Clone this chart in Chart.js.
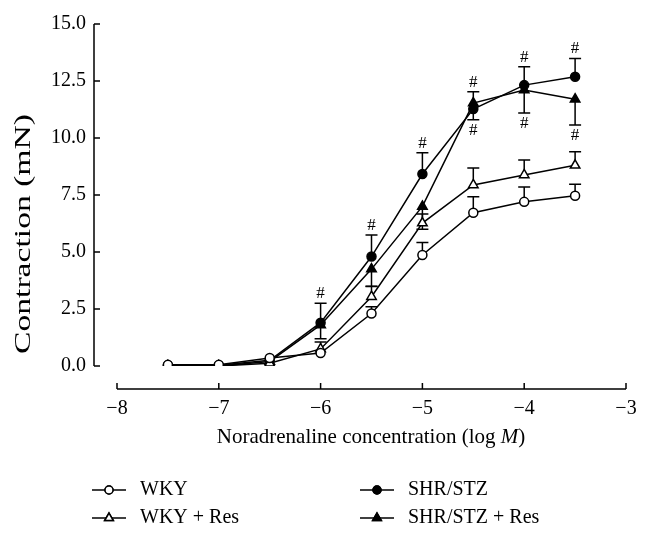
<!DOCTYPE html>
<html>
<head>
<meta charset="utf-8">
<script src="https://cdn.jsdelivr.net/npm/chart.js@4"></script>
<style>
  body { margin: 0; background: #fff; }
</style>
</head>
<body>
<canvas id="chart" width="668" height="539"></canvas>
<script>
// log M
const concentrations = [-7.5, -7, -6.5, -6, -5.5, -5, -4.5, -4, -3.5];

const wky = [0.05, 0.05, 0.35, 0.57, 2.3, 4.87, 6.72, 7.2, 7.47];
const wkySem = [0, 0, 0.05, 0.1, 0.3, 0.55, 0.7, 0.65, 0.5];

const wkyRes = [0, 0, 0.12, 0.75, 3.04, 6.27, 7.94, 8.38, 8.8];
const wkyResSem = [0, 0, 0.05, 0.3, 0.45, 0.4, 0.74, 0.65, 0.6];

const shr = [0.03, 0.03, 0.25, 1.9, 4.8, 8.42, 11.27, 12.32, 12.69];
const shrSem = [0, 0, 0.1, 0.85, 0.95, 0.93, 0.76, 0.8, 0.8];
const shrMarks = ["", "", "", "#", "#", "#", "#", "#", "#"];

const shrRes = [0, 0, 0.2, 1.8, 4.25, 7.0, 11.53, 12.1, 11.7];
const shrResSem = [0, 0, 0.1, 0.6, 0.75, 1.0, 0.73, 1.0, 1.13];
const shrResMarks = ["", "", "", "", "", "", "#", "#", "#"];

const yTicks = [0, 2.5, 5, 7.5, 10, 12.5, 15];
const xTicks = [-8, -7, -6, -5, -4, -3];

const FONT = "'Liberation Serif', 'DejaVu Serif', serif";

function pts(values) {
  return concentrations.map(function (c, i) { return { x: c, y: values[i] }; });
}

// sem up (1) or down (-1) per series, with marks
const errorSets = [
  { values: wky, sem: wkySem, dir: 1, marks: null },
  { values: wkyRes, sem: wkyResSem, dir: 1, marks: null },
  { values: shr, sem: shrSem, dir: 1, marks: shrMarks },
  { values: shrRes, sem: shrResSem, dir: -1, marks: shrResMarks }
];

const errorBars = {
  id: "errorBars",
  beforeDatasetsDraw: function (chart) {
    const ctx = chart.ctx;
    const xs = chart.scales.x, ys = chart.scales.y;
    ctx.save();
    ctx.strokeStyle = "#000";
    ctx.lineWidth = 1.5;
    ctx.fillStyle = "#000";
    ctx.font = "17px " + FONT;
    ctx.textAlign = "center";
    errorSets.forEach(function (set) {
      concentrations.forEach(function (c, i) {
        const px = xs.getPixelForValue(c);
        const py = ys.getPixelForValue(set.values[i]);
        const pe = ys.getPixelForValue(set.values[i] + set.dir * set.sem[i]);
        if (set.sem[i] > 0.15) {
          ctx.beginPath();
          ctx.moveTo(px, py);
          ctx.lineTo(px, pe);
          ctx.moveTo(px - 6, pe);
          ctx.lineTo(px + 6, pe);
          ctx.stroke();
        }
        if (set.marks && set.marks[i]) {
          if (set.dir > 0) {
            ctx.textBaseline = "bottom";
            ctx.fillText(set.marks[i], px, pe - 1);
          } else {
            ctx.textBaseline = "top";
            ctx.fillText(set.marks[i], px, pe + 2);
          }
        }
      });
    });
    ctx.restore();
  }
};

const axesAndLegend = {
  id: "axesAndLegend",
  afterDraw: function (chart) {
    const ctx = chart.ctx;
    const xs = chart.scales.x, ys = chart.scales.y;
    ctx.save();
    ctx.strokeStyle = "#000";
    ctx.lineWidth = 1.5;

    // y axis, set off to the left
    const ax = 94;
    ctx.beginPath();
    ctx.moveTo(ax, ys.getPixelForValue(15));
    ctx.lineTo(ax, ys.getPixelForValue(0));
    yTicks.forEach(function (t) {
      const y = ys.getPixelForValue(t);
      ctx.moveTo(ax, y);
      ctx.lineTo(ax + 6, y);
    });
    ctx.stroke();

    // x axis, set off below
    const ay = 389;
    ctx.beginPath();
    ctx.moveTo(xs.getPixelForValue(-8), ay);
    ctx.lineTo(xs.getPixelForValue(-3), ay);
    xTicks.forEach(function (t) {
      const x = xs.getPixelForValue(t);
      ctx.moveTo(x, ay);
      ctx.lineTo(x, ay - 6);
    });
    ctx.stroke();

    // titles
    ctx.fillStyle = "#000";
    ctx.textBaseline = "middle";
    ctx.font = "21px " + FONT;
    const t1 = "Noradrenaline concentration (log ";
    const t2 = "M";
    const t3 = ")";
    const w1 = ctx.measureText(t1).width;
    ctx.font = "italic 21px " + FONT;
    const w2 = ctx.measureText(t2).width;
    ctx.font = "21px " + FONT;
    const w3 = ctx.measureText(t3).width;
    let sx = 371 - (w1 + w2 + w3) / 2;
    ctx.textAlign = "left";
    ctx.fillText(t1, sx, 437);
    ctx.font = "italic 21px " + FONT;
    ctx.fillText(t2, sx + w1, 437);
    ctx.font = "21px " + FONT;
    ctx.fillText(t3, sx + w1 + w2, 437);

    // y title is stretched along its length in the original
    ctx.save();
    ctx.translate(24, 234);
    ctx.rotate(-Math.PI / 2);
    ctx.font = "24px " + FONT;
    const yt = "Contraction (mN)";
    ctx.scale(240 / ctx.measureText(yt).width, 1);
    ctx.textAlign = "center";
    ctx.fillText(yt, 0, 0);
    ctx.restore();

    // legend
    const items = [
      { ds: 0, x: 92, y: 490 },
      { ds: 1, x: 92, y: 518 },
      { ds: 2, x: 360, y: 490 },
      { ds: 3, x: 360, y: 518 }
    ];
    ctx.font = "20px " + FONT;
    items.forEach(function (it) {
      const ds = chart.data.datasets[it.ds];
      ctx.beginPath();
      ctx.lineWidth = 1.5;
      ctx.strokeStyle = "#000";
      ctx.moveTo(it.x, it.y);
      ctx.lineTo(it.x + 34, it.y);
      ctx.stroke();
      Chart.helpers.drawPoint(ctx, {
        pointStyle: ds.pointStyle,
        radius: ds.pointStyle === "triangle" ? 5 : 4,
        borderWidth: 1.5,
        rotation: 0
      }, it.x + 17, it.y);
      ctx.fillStyle = ds.pointBackgroundColor;
      ctx.strokeStyle = "#000";
      ctx.fill();
      ctx.stroke();
      ctx.fillStyle = "#000";
      ctx.textAlign = "left";
      ctx.fillText(ds.label, it.x + 48, it.y);
    });
    ctx.restore();
  }
};

function series(label, values, style, fill) {
  return {
    label: label,
    data: pts(values),
    borderColor: "#000",
    borderWidth: 1.5,
    pointStyle: style,
    pointRadius: style === "triangle" ? 5.5 : 4.5,
    pointBackgroundColor: fill,
    pointBorderColor: "#000",
    pointBorderWidth: 1.5,
    tension: 0,
    fill: false
  };
}

const ctx = document.getElementById("chart").getContext("2d");
const myChart = new Chart(ctx, {
  type: "line",
  data: {
    datasets: [
      series("WKY", wky, "circle", "#fff"),
      series("WKY + Res", wkyRes, "triangle", "#fff"),
      series("SHR/STZ", shr, "circle", "#000"),
      series("SHR/STZ + Res", shrRes, "triangle", "#000")
    ]
  },
  options: {
    responsive: false,
    animation: false,
    layout: { padding: { top: 24, right: 42, left: 0, bottom: 0 } },
    plugins: { legend: { display: false }, tooltip: { enabled: false } },
    scales: {
      x: {
        type: "linear",
        min: -8,
        max: -3,
        afterFit: function (s) {
          s.height = 173;
          s.paddingLeft = 0;
          s.paddingRight = 0;
        },
        afterBuildTicks: function (s) { s.ticks = xTicks.map(function (v) { return { value: v }; }); },
        grid: { display: false },
        border: { display: false },
        ticks: {
          padding: 23,
          color: "#000",
          font: { family: FONT, size: 20 },
          maxRotation: 0,
          callback: function (v) { return (v < 0 ? "\u2212" : "") + Math.abs(v); }
        }
      },
      y: {
        min: 0,
        max: 15,
        afterFit: function (s) {
          s.width = 117;
          s.paddingTop = 0;
          s.paddingBottom = 0;
        },
        afterBuildTicks: function (s) { s.ticks = yTicks.map(function (v) { return { value: v }; }); },
        grid: { display: false },
        border: { display: false },
        ticks: {
          padding: 23,
          color: "#000",
          font: { family: FONT, size: 20 },
          callback: function (v) { return v.toFixed(1); }
        }
      }
    }
  },
  plugins: [errorBars, axesAndLegend]
});
</script>
</body>
</html>
